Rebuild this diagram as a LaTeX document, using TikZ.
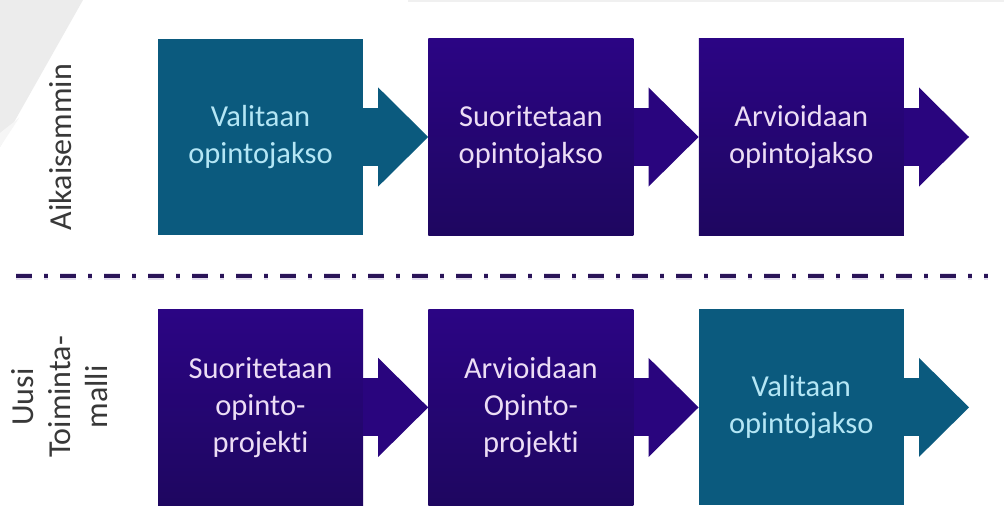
\documentclass[tikz,border=0pt]{standalone}
\usepackage{fontspec}
\setmainfont{Carlito}[Ligatures=NoCommon]
\usepackage{tikz}
\usetikzlibrary{positioning}
\usetikzlibrary{arrows.meta}
\definecolor{tealbox}{HTML}{0B5A7E}
\definecolor{tealtext}{HTML}{B4E6F5}
\definecolor{purpletop}{HTML}{2B0584}
\definecolor{purplebot}{HTML}{1E0660}
\definecolor{purpletext}{HTML}{ECDDF5}
\definecolor{sepline}{HTML}{2A1458}
\definecolor{labeltext}{HTML}{383838}
\tikzstyle{course} = [rectangle, minimum width=205pt, minimum height=196pt, inner sep=0pt, text centered, align=center, font=\fontsize{30.5pt}{37pt}\selectfont]
\tikzstyle{choose} = [course, fill=tealbox, text=tealtext]
\tikzstyle{work} = [course, top color=purpletop, bottom color=purplebot, text=purpletext]
\tikzstyle{flow} = [line width=58pt, -{Triangle[length=50pt, width=99pt, line width=0pt]}]
\tikzstyle{rowlabel} = [rotate=90, align=center, text=labeltext, inner sep=0pt, font=\fontsize{32pt}{37pt}\selectfont]

\begin{document}
\begin{tikzpicture}[x=1pt, y=-1pt, node distance=65pt]
                        \fill[white] (0,0) rectangle (1004,524);
                        \useasboundingbox (0,0) rectangle (1004,524);
                        % grey corner and top strip
                        \fill[gray!15] (0,0) -- (83,0) -- (0,147) -- cycle;
                        \fill[gray!7] (0,133) -- (19,118) -- (0,147) -- cycle;
                        \fill[gray!12] (408,0) rectangle (1004,2.5);
                        % earlier way
                        \node (old) [rowlabel] at (61,147) {Aikaisemmin};
                        \node (c1) [choose] at (260.5,137) {Valitaan\\opintojakso};
                        \node (c2) [work, right=of c1] {Suoritetaan\\opintojakso};
                        \node (c3) [work, right=of c2] {Arvioidaan\\opintojakso};
                        \coordinate [right=of c3.east] (oldend);
                        \draw [flow, tealbox] (c1.east) -- (c2.west);
                        \draw [flow, purpletop!85!purplebot] (c2.east) -- (c3.west);
                        \draw [flow, purpletop!85!purplebot] (c3.east) -- (oldend);
                        % separator
                        \draw [purpletop!25, line width=7pt, opacity=0.5, dash pattern=on 16pt off 12pt on 4pt off 12pt] (16,276) -- (988,276);
                        \draw [sepline, line width=4pt, dash pattern=on 16pt off 12pt on 4pt off 12pt] (16,276) -- (988,276);
                        % new way
                        \node (new) [rowlabel] at (60,397) {Uusi\\Toiminta-\\malli};
                        \node (n1) [work, below=74pt of c1] {Suoritetaan\\opinto-\\projekti};
                        \node (n2) [work, right=of n1] {Arvioidaan\\Opinto-\\projekti};
                        \node (n3) [choose, right=of n2] {Valitaan\\opintojakso};
                        \coordinate [right=of n3.east] (newend);
                        \draw [flow, purpletop!85!purplebot] (n1.east) -- (n2.west);
                        \draw [flow, purpletop!85!purplebot] (n2.east) -- (n3.west);
                        \draw [flow, tealbox] (n3.east) -- (newend);
                    \end{tikzpicture}
\end{document}
